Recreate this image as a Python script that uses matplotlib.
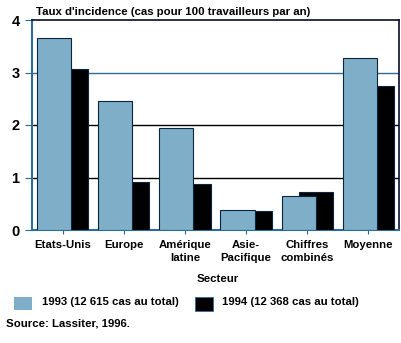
import matplotlib
matplotlib.use("Agg")
import matplotlib.pyplot as plt
from matplotlib.patches import Rectangle
import numpy as np

plt.rcParams['font.family'] = ['Liberation Sans', 'DejaVu Sans']
plt.rcParams['font.weight'] = 'bold'

secteurs = ["Etats-Unis", "Europe", "Amérique\nlatine", "Asie-\nPacifique",
            "Chiffres\ncombinés", "Moyenne"]
taux_1993 = [3.66, 2.45, 1.94, 0.38, 0.65, 3.28]
taux_1994 = [3.06, 0.91, 0.88, 0.36, 0.72, 2.74]
label_1993 = "1993 (12 615 cas au total)"
label_1994 = "1994 (12 368 cas au total)"
y_ticks = [0, 1, 2, 3, 4]

bleu = "#7fafc8"
bord = "#0b2540"
axe_bleu = "#2a6d9a"
fs = 8.2

fig = plt.figure(figsize=(4.01, 3.43), dpi=100)
ax = fig.add_axes([32 / 401, 113 / 343, 367 / 401, 210 / 343])

x = np.arange(len(secteurs))
w = 0.56
d = 0.14
ax.bar(x + d, taux_1994, width=w, color="black", edgecolor=bord, linewidth=0.8, zorder=3)
ax.bar(x - d, taux_1993, width=w, color=bleu, edgecolor=bord, linewidth=0.8, zorder=4)

# lignes horizontales
for v, c in [(1, "black"), (2, "black"), (3, axe_bleu)]:
    ax.axhline(v, color=c, linewidth=1.0, zorder=1)

ax.set_xlim(-0.5, 5.5)
ax.set_ylim(0, 4)
ax.set_yticks(y_ticks)
ax.set_yticklabels([str(t) for t in y_ticks], fontsize=10.5)
ax.set_xticks(x)
ax.set_xticklabels(secteurs, fontsize=fs, linespacing=1.45)
ax.tick_params(axis="x", length=3, color=axe_bleu, pad=4)
ax.tick_params(axis="y", length=5, color=axe_bleu, pad=4)

for s in ["left", "bottom"]:
    ax.spines[s].set_color(axe_bleu)
    ax.spines[s].set_linewidth(1.5)
for s in ["top", "right"]:
    ax.spines[s].set_color("#0a0a30")
    ax.spines[s].set_linewidth(1.2)

fig.text(36 / 401, 1 - 12 / 343, "Taux d'incidence (cas pour 100 travailleurs par an)",
         fontsize=fs, va="center", ha="left")
fig.text(218 / 401, 1 - 279 / 343, "Secteur", fontsize=fs, ha="center", va="center")

# légende
fig.add_artist(Rectangle((14 / 401, 1 - 310 / 343), 18 / 401, 13 / 343,
                         transform=fig.transFigure, facecolor=bleu, edgecolor="none"))
fig.text(42 / 401, 1 - 302 / 343, label_1993, fontsize=fs, va="center", ha="left")
fig.add_artist(Rectangle((195 / 401, 1 - 311 / 343), 18 / 401, 14 / 343,
                         transform=fig.transFigure, facecolor="black", edgecolor=axe_bleu,
                         linewidth=0.6))
fig.text(222 / 401, 1 - 302 / 343, label_1994, fontsize=fs, va="center", ha="left")
fig.text(6 / 401, 1 - 323 / 343, "Source: Lassiter, 1996.", fontsize=fs, va="center", ha="left")

fig.savefig("out.png", dpi=100)
